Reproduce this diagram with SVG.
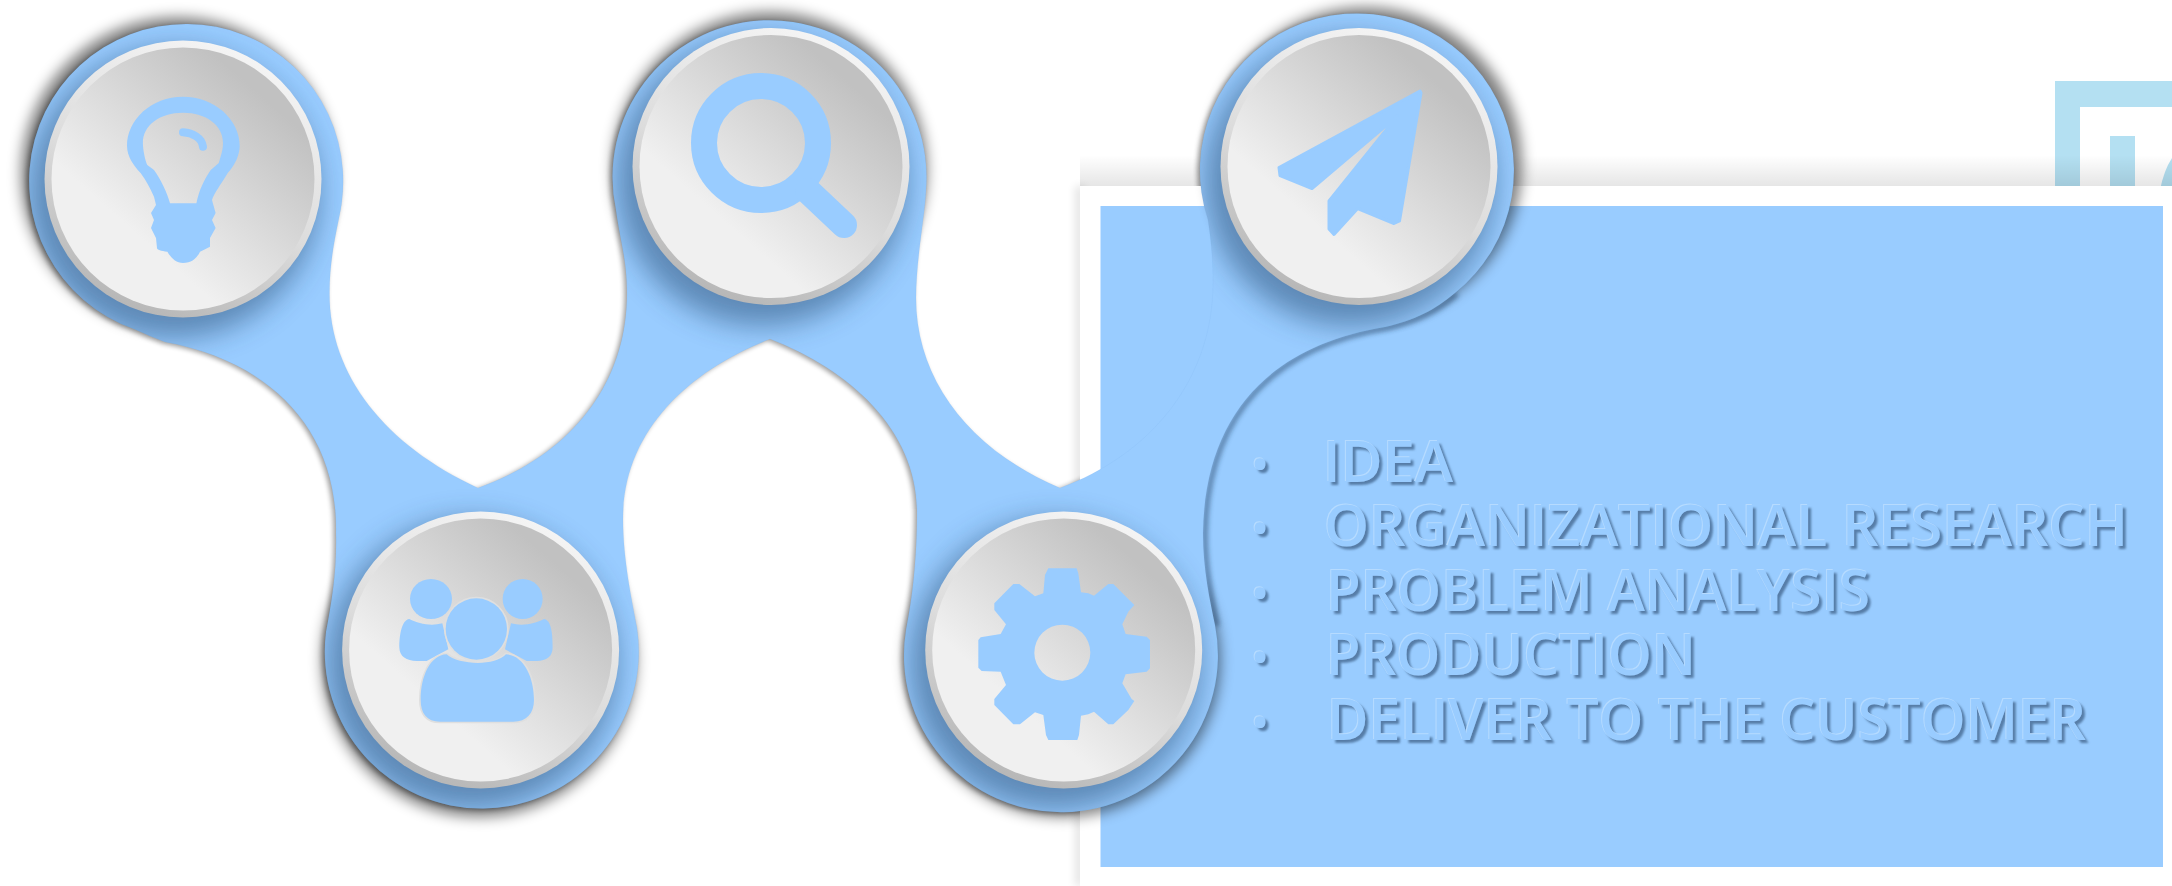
<svg xmlns="http://www.w3.org/2000/svg" xmlns:xlink="http://www.w3.org/1999/xlink" width="2172" height="886" viewBox="0 0 2172 886">
<style>
.icon{fill:#99CCFF}
.gap{fill:#99CCFF;stroke:#dfdfdf;stroke-width:10;paint-order:stroke}
.list text{font-family:"Open Sans","Liberation Sans",sans-serif;font-weight:600;font-size:58px;fill:#99CCFF}
.list text.dot{font-size:44px}
.frame{fill:#b4e0f2}
.rim{fill:url(#rimGrad)}
.disc{fill:url(#discGrad)}
.halo{fill:#000;opacity:.5;filter:url(#blur6)}
.cres{fill:#24466e;opacity:.5;filter:url(#blur11)}
</style>
<defs>
<path id="blob" d="M134,329 A157,157 0 1 1 342,200 C341,215 329.5,250 329.5,293 C329,375 385,445 478,488 C570,455 627,385 627,293 C627,260 620,240 616,210 A157,157 0 1 1 926,190 C925,215 916,260 916,298 C916,380 970,450 1060,488 C1150,455 1213,380 1213,283 C1213,260 1211,240 1208,220 A157,157 0 1 1 1455,293 C1435,310 1415,320 1385,327 C1275,345 1205,410 1203,533 C1203,570 1210,600 1215,625 A157,157 0 1 1 906,630 C912,600 917,560 917,512 C917,430 850,370 770,339 C690,370 623,430 623,519 C623,560 632,600 637,628 A157,157 0 1 1 326,632 C332,600 337,570 336,533 C338,425 265,360 165,342 C155,338 145,334 134,329 Z"/>
<clipPath id="blobClip"><use xlink:href="#blob" href="#blob"/></clipPath>
<linearGradient id="discGrad" x1=".18" y1=".88" x2=".85" y2=".12"><stop offset=".22" stop-color="#f0f0f0"/><stop offset=".92" stop-color="#c1c1c1"/></linearGradient>
<linearGradient id="rimGrad" x1=".72" y1="0" x2=".3" y2="1"><stop offset="0" stop-color="#f6f6f6"/><stop offset=".55" stop-color="#dcdcdc"/><stop offset="1" stop-color="#b4b4b4"/></linearGradient>
<linearGradient id="shade" x1="0" y1="0" x2="0" y2="1"><stop offset="0" stop-color="#000" stop-opacity="0"/><stop offset="1" stop-color="#000" stop-opacity=".1"/></linearGradient>
<filter id="blur6" x="-20%" y="-20%" width="140%" height="140%"><feGaussianBlur stdDeviation="7"/></filter>
<filter id="blur11" x="-30%" y="-30%" width="160%" height="160%"><feGaussianBlur stdDeviation="14"/></filter>
<filter id="blur3" x="-5%" y="-5%" width="110%" height="110%"><feGaussianBlur stdDeviation="2.5"/></filter>
<filter id="blur10" x="-100%" y="-10%" width="300%" height="120%"><feGaussianBlur stdDeviation="4"/></filter>
<filter id="emboss" x="-5%" y="-20%" width="110%" height="140%">
<feOffset in="SourceAlpha" dx="-1.5" dy="-1.5" result="a"/><feGaussianBlur in="a" stdDeviation=".6" result="a2"/><feFlood flood-color="#b6dbff"/><feComposite in2="a2" operator="in" result="light"/>
<feOffset in="SourceAlpha" dx="2.5" dy="2.5" result="b"/><feGaussianBlur in="b" stdDeviation="1.1" result="b2"/><feFlood flood-color="#4a6f98" flood-opacity=".85"/><feComposite in2="b2" operator="in" result="dark"/>
<feMerge><feMergeNode in="dark"/><feMergeNode in="light"/><feMergeNode in="SourceGraphic"/></feMerge>
</filter>
</defs>
<rect width="2172" height="886" fill="#fff"/>
<g id="backdrop-frame">
<path class="frame" d="M2055,81 H2172 V107 H2080 V190 H2055 Z"/>
<rect class="frame" x="2110" y="136" width="25" height="54"/>
<path class="frame" d="M2160,190 Q2164,170 2172,158 V190 Z"/>
</g>
<rect x="1080" y="155" width="1092" height="31" fill="url(#shade)"/>
<g id="halos-back">
<circle class="halo" cx="178" cy="174" r="157"/>
<circle class="halo" cx="770" cy="169" r="157"/>
<circle class="halo" cx="479" cy="660" r="157"/>
<use xlink:href="#blob" href="#blob" transform="translate(-2.5,1.5)" fill="#000" opacity=".38" filter="url(#blur3)"/>
</g>
<g id="panel">
<rect x="1075" y="186" width="10" height="700" fill="#000" opacity=".1" filter="url(#blur10)"/>
<rect x="1080" y="186" width="1092" height="700" fill="#fff"/>
<rect x="1100.5" y="206" width="1062.5" height="661" fill="#99CCFF"/>
</g>
<g id="halos-front">
<circle class="halo" cx="1365" cy="164" r="157"/>
<circle class="halo" cx="1063" cy="660" r="157"/>
<path d="M1455,293 C1435,310 1415,320 1385,327 C1275,345 1205,410 1203,533 C1203,570 1210,600 1215,625" fill="none" stroke="#1d3a5c" stroke-width="5" opacity=".55" filter="url(#blur3)" transform="translate(2,1)"/>
</g>
<g id="connectors">
<use xlink:href="#blob" href="#blob" fill="#99CCFF" stroke="#4f86c4" stroke-opacity=".06"/>
</g>
<g id="node-idea">
<g clip-path="url(#blobClip)"><circle class="cres" cx="174" cy="193" r="145"/></g>
<circle class="rim" cx="183" cy="179" r="138.5"/><circle class="disc" cx="183" cy="179" r="131.5"/>
<path class="icon" fill-rule="evenodd" d="M183,96.7 C215,96.7 239.7,120 239.7,145.7 C239.7,155 235,165 227.7,173 C222,183 214,193 212,200 L215.6,213 L212,220 L215.6,228 L210,238 L210,246.7 L200,251.7 C197,258 192,263 183,263 C176,263 171,258 167.4,251.7 C161,251 157,250 157,248 L156,238 L151,228 L154,220 L151,213 L156,205 L154,196.7 C150,188 146,180 140.6,173 C133,165 127,156 127,145.7 C127,120 151,96.7 183,96.7 Z M183,112.7 C160,112.7 142.9,125 142.9,143 C143,150 145,160 147.3,165 L154,170 C161,180 167,192 170,203.3 L196.4,203.3 C199,190 204,180 210.7,170 L218.8,163 C221,155 223,150 223,143 C223,125 206,112.7 183,112.7 Z"/>
<path d="M183,132.3 C193,133 202,138 203,146.7" fill="none" stroke="#99CCFF" stroke-width="8" stroke-linecap="round"/>
</g>
<g id="node-research">
<g clip-path="url(#blobClip)"><circle class="cres" cx="762" cy="181" r="145"/></g>
<circle class="rim" cx="771" cy="166.5" r="138.5"/><circle class="disc" cx="771" cy="166.5" r="131.5"/>
<circle cx="761" cy="143" r="57" fill="none" stroke="#99CCFF" stroke-width="26"/>
<path d="M808,191 L844,225" fill="none" stroke="#99CCFF" stroke-width="26" stroke-linecap="round"/>
</g>
<g id="node-deliver">
<g clip-path="url(#blobClip)"><circle class="cres" cx="1350" cy="181" r="145"/></g>
<circle class="rim" cx="1359" cy="166.5" r="138.5"/><circle class="disc" cx="1359" cy="166.5" r="131.5"/>
<path class="icon" stroke="#99CCFF" stroke-width="3" stroke-linejoin="round" d="M1420,91 L1279,167.5 L1280,175.5 L1312,188.5 L1397.4,116 L1329,201 L1329,229 L1334,234.5 L1357.7,208.5 L1394,223.5 L1399.5,221 L1421,93 Z"/>
</g>
<g id="node-analysis">
<g clip-path="url(#blobClip)"><circle class="cres" cx="472" cy="664" r="145"/></g>
<circle class="rim" cx="480.6" cy="650" r="138.5"/><circle class="disc" cx="480.6" cy="650" r="131.5"/>
<g transform="translate(380,560) scale(.3333)">
<path class="icon" d="M88,177 C115,190 150,200 187,190 L205,268 L140,303 L110,303 C80,303 58,290 58,262 C58,225 65,180 88,177 Z"/>
<path class="icon" d="M492,177 C465,190 430,200 393,190 L375,268 L440,303 L470,303 C500,303 518,290 518,262 C518,225 515,180 492,177 Z"/>
<ellipse class="icon" cx="153" cy="117" rx="63" ry="60"/>
<ellipse class="icon" cx="428" cy="117" rx="60" ry="60"/>
<path class="gap" d="M200,283 C235,315 345,320 378,283 C430,285 462,350 462,420 C462,460 440,485 400,485 L180,485 C140,485 122,460 122,420 C122,350 150,285 200,283 Z"/>
<circle class="gap" cx="289" cy="207" r="92"/>
</g>
</g>
<g id="node-production">
<g clip-path="url(#blobClip)"><circle class="cres" cx="1055" cy="664" r="145"/></g>
<circle class="rim" cx="1063.7" cy="650" r="138.5"/><circle class="disc" cx="1063.7" cy="650" r="131.5"/>
<path class="icon" fill-rule="evenodd" transform="translate(960,555) scale(.3333)" d="M265,40 L350,40 L355,55 L363,112 L385,115 L402,122 L445,87 L460,87 L523,150 L505,170 L487,208 L497,237 L560,245 L570,255 L570,340 L560,350 L497,358 L487,385 L515,432 L523,438 L505,465 L460,508 L445,508 L402,470 L385,478 L363,482 L357,540 L352,555 L265,555 L258,540 L250,480 L225,472 L180,508 L160,508 L103,450 L103,432 L138,390 L122,350 L65,348 L55,338 L55,255 L62,247 L122,237 L138,208 L103,165 L103,145 L160,87 L178,87 L225,124 L250,115 L255,60 Z M307,209 A84,84 0 1 0 307,377 A84,84 0 1 0 307,209 Z"/>
</g>
<g id="list" class="list" filter="url(#emboss)">
<text class="dot" x="1260" y="480" text-anchor="middle">•</text><text x="1323" y="482" textLength="130" lengthAdjust="spacingAndGlyphs">IDEA</text>
<text class="dot" x="1260" y="544" text-anchor="middle">•</text><text x="1324" y="546" textLength="804" lengthAdjust="spacingAndGlyphs">ORGANIZATIONAL RESEARCH</text>
<text class="dot" x="1260" y="608.5" text-anchor="middle">•</text><text x="1326" y="610.5" textLength="544" lengthAdjust="spacingAndGlyphs">PROBLEM ANALYSIS</text>
<text class="dot" x="1260" y="673" text-anchor="middle">•</text><text x="1326" y="675" textLength="370" lengthAdjust="spacingAndGlyphs">PRODUCTION</text>
<text class="dot" x="1260" y="737.5" text-anchor="middle">•</text><text x="1327" y="739.5" textLength="759" lengthAdjust="spacingAndGlyphs">DELIVER TO THE CUSTOMER</text>
</g>
</svg>
